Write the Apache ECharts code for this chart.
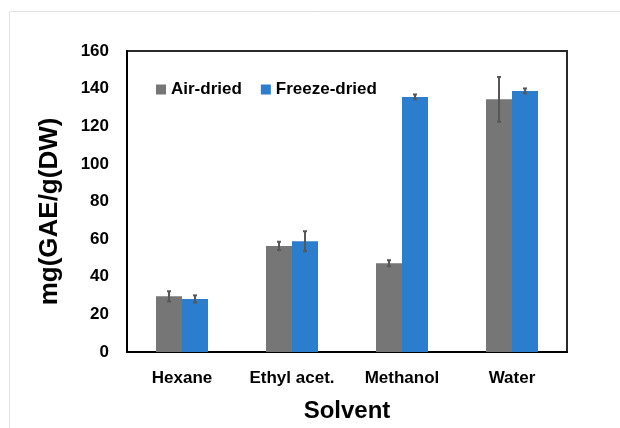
<!DOCTYPE html>
<html>
<head>
<meta charset="utf-8">
<script src="https://cdn.jsdelivr.net/npm/echarts@6/dist/echarts.min.js"></script>
<style>
html,body{margin:0;padding:0;background:#fff;}
#chart{width:620px;height:428px;}
</style>
</head>
<body>
<div id="chart"></div>
<script>
const categories = ['Hexane', 'Ethyl acet.', 'Methanol', 'Water'];
const seriesNames = ['Air-dried', 'Freeze-dried'];
const airDried = [29.6, 56.4, 47.2, 134.3];
const freezeDried = [28.2, 58.9, 135.6, 138.8];
const airErr = [2.7, 2.2, 1.6, 11.9];
const freezeErr = [1.9, 5.3, 1.3, 1.3];
const yTicks = { min: 0, max: 160, interval: 20 };

const BAR_W = 26;
const FONT = "'Liberation Sans', Arial, sans-serif";

const errData = [];
categories.forEach((c, i) => {
  errData.push([i, airDried[i], airErr[i], 0]);
  errData.push([i, freezeDried[i], freezeErr[i], 1]);
});

const chart = echarts.init(document.getElementById('chart'), null, { renderer: 'canvas' });

chart.setOption({
  animation: false,
  backgroundColor: '#ffffff',
  graphic: [{
    type: 'rect',
    shape: { x: 9.5, y: 11.5, width: 700, height: 500 },
    style: { fill: 'none', stroke: '#e3e3e3', lineWidth: 1 },
    silent: true, z: -10
  }],
  legend: {
    data: seriesNames,
    left: 151, top: 76,
    icon: 'rect', itemWidth: 10, itemHeight: 10, itemGap: 19,
    selectedMode: false,
    textStyle: { fontFamily: FONT, fontWeight: 'bold', fontSize: 17, color: '#000' }
  },
  grid: {
    left: 127, right: 53, top: 51, bottom: 76,
    show: true, borderColor: '#2a2a2a', borderWidth: 2, backgroundColor: 'transparent'
  },
  xAxis: {
    type: 'category',
    data: categories,
    name: 'Solvent',
    nameLocation: 'middle',
    nameGap: 47,
    nameTextStyle: { fontFamily: FONT, fontWeight: 'bold', fontSize: 24, color: '#000' },
    axisLine: { lineStyle: { color: '#000', width: 2 } },
    axisTick: { show: false },
    axisLabel: { fontFamily: FONT, fontWeight: 'bold', fontSize: 17, color: '#000', margin: 18, interval: 0 }
  },
  yAxis: {
    type: 'value',
    min: yTicks.min, max: yTicks.max, interval: yTicks.interval,
    name: 'mg(GAE/g(DW)',
    nameLocation: 'middle',
    nameGap: 64,
    nameTextStyle: { fontFamily: FONT, fontWeight: 'bold', fontSize: 26, color: '#000', padding: [0, 20, 0, 0] },
    axisLine: { show: true, lineStyle: { color: '#000', width: 2 } },
    axisTick: { show: false },
    splitLine: { show: false },
    axisLabel: { fontFamily: FONT, fontWeight: 'bold', fontSize: 17, color: '#000', margin: 18 }
  },
  series: [
    {
      name: seriesNames[0], type: 'bar', data: airDried,
      barWidth: BAR_W, barGap: '0%',
      itemStyle: { color: '#767676' }
    },
    {
      name: seriesNames[1], type: 'bar', data: freezeDried,
      barWidth: BAR_W, barGap: '0%',
      itemStyle: { color: '#2b7dce' }
    },
    {
      type: 'custom',
      data: errData,
      z: 10,
      silent: true,
      renderItem: function (params, api) {
        const idx = api.value(0), v = api.value(1), e = api.value(2), s = api.value(3);
        const off = s === 0 ? -BAR_W / 2 : BAR_W / 2;
        const hi = api.coord([idx, v + e]);
        const lo = api.coord([idx, v - e]);
        const x = hi[0] + off;
        const cap = 2;
        const st = { stroke: '#575757', lineWidth: 2 };
        return {
          type: 'group',
          children: [
            { type: 'line', shape: { x1: x, y1: hi[1], x2: x, y2: lo[1] }, style: st },
            { type: 'line', shape: { x1: x - cap, y1: hi[1], x2: x + cap, y2: hi[1] }, style: st },
            { type: 'line', shape: { x1: x - cap, y1: lo[1], x2: x + cap, y2: lo[1] }, style: st }
          ]
        };
      }
    }
  ]
});
</script>
</body>
</html>
